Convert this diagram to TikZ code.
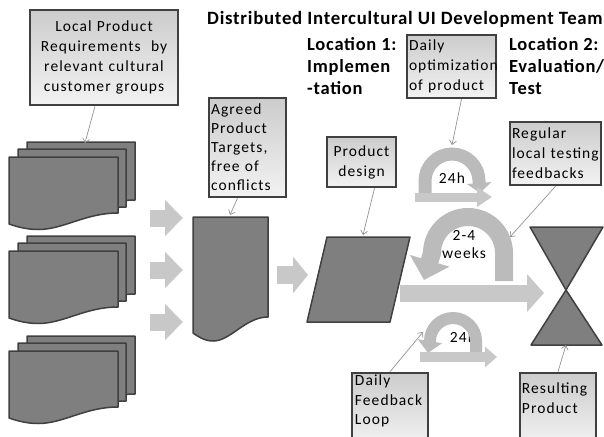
\documentclass[tikz,border=0pt]{standalone}
\usepackage{fontspec}
\setmainfont{Carlito}
\newfontfamily\boxfont[LetterSpace=7]{Carlito}
\newfontfamily\headfont[LetterSpace=4]{Carlito}
\usepackage{tikz}
\usetikzlibrary{arrows.meta}

\definecolor{edgegray}{HTML}{404040}
\definecolor{pagegray}{HTML}{7F7F7F}
\definecolor{arrowgray}{HTML}{C8C8C8}
\definecolor{curvegray}{HTML}{BBBBBB}

% one sheet of a document symbol with a wavy lower edge: x, y, width, height, wave depth
\newcommand{\docpage}[5]{%
  \filldraw[page] (#1,#2) -- ({#1+#3},#2) -- ({#1+#3},{#2+#4})
    .. controls ({#1+0.7*#3},{#2+#4}) and ({#1+0.5*#3},{#2+#4+1.5*#5}) .. ({#1+0.27*#3},{#2+#4+1.5*#5})
    .. controls ({#1+0.15*#3},{#2+#4+1.5*#5}) and ({#1+0.06*#3},{#2+#4+1.2*#5}) .. (#1,{#2+#4+#5}) -- cycle;}

\tikzset{
  page/.style={fill=pagegray,draw=edgegray,line width=1.5pt,line join=round},
  infobox/.style={draw=edgegray,line width=2.5pt,top color=gray!40,bottom color=gray!10,
    inner sep=2pt,align=left,font=\boxfont\fontsize{15.5}{20}\selectfont},
  boxtext/.style={inner sep=0pt,align=left,font=\boxfont\fontsize{15.5}{19.5}\selectfont},
  heading/.style={inner sep=0pt,align=left,font=\headfont\bfseries\fontsize{18.5}{22}\selectfont},
  arclabel/.style={inner sep=0pt,align=center,font=\boxfont\fontsize{15.5}{18}\selectfont},
  link/.style={draw=gray!85,line width=0.7pt,-{Straight Barb[length=4pt,width=7pt]}},
  fat/.style n args={3}{draw=arrowgray,line width=#1,-{Triangle[width=#2,length=#3]}}
}

\begin{document}
\begin{tikzpicture}[x=1pt,y=-1pt]
\useasboundingbox (0,0) rectangle (604,436);
\clip (0,0) rectangle (604,436);

% titles
\node[heading,anchor=west,font=\headfont\bfseries\fontsize{18.8}{22}\selectfont] (team) at (207,19)
  {Distributed Intercultural UI Development Team};
\node[heading,anchor=north west] (loc1) at (307,37) {Location 1:\\Implemen\\-tation};
\node[heading,anchor=north west] (loc2) at (509,37) {Location 2:\\Evaluation/\\Test};

% stacks of local requirement documents
\foreach \y in {142,236,336} {
  \docpage{27}{\y}{108}{58}{11}
  \docpage{18}{\y+7}{108}{58}{11}
  \docpage{9}{\y+15}{109}{56}{11}
}
% agreed targets, design, resulting product
\docpage{193}{217}{75}{100}{16}
\filldraw[page] (327,237) -- (410,237) -- (390,322) -- (307,322) -- cycle;
\filldraw[page] (530,227) -- (603,227) -- (566,290) -- cycle;
\filldraw[page] (566,290) -- (602,345) -- (531,345) -- cycle;

% straight block arrows
\foreach \y in {218,270,322}
  \draw[fat={17pt}{35pt}{18pt}] (150,\y) -- (183,\y);
\draw[fat={18pt}{36pt}{15pt}] (277,275) -- (308,275);
\draw[fat={17pt}{37pt}{17pt}] (400,293) -- (544,293);

% labels of the loops
\node[arclabel] (day1) at (452,178) {24h};
\node[arclabel] (weeks) at (464,245) {2-4\\weeks};
\node[arclabel] (day2) at (463,337) {24h};

% feedback loops
\draw[fat={13pt}{24pt}{10pt},draw=curvegray] (425,197) -- (425,181)
  arc[start angle=180,end angle=360,radius=27] -- (480,193);
\draw[fat={9pt}{19pt}{15pt}] (415,197) -- (492,197);
\draw[fat={18pt}{40pt}{20pt},draw=curvegray] (504,281) -- (504,253)
  arc[start angle=0,end angle=-180,radius=36] -- (424,280);
\draw[fat={12pt}{24pt}{12pt},draw=curvegray] (476,352) -- (476,341)
  arc[start angle=0,end angle=-180,radius=23] -- (428,353);
\draw[fat={10pt}{20pt}{12pt}] (420,357) -- (497,357);

% call-out boxes
\node[infobox,text width=144pt,minimum height=95pt,align=center] (req) at (104,57.5)
  {Local Product\\Requirements~ by\\relevant cultural\\customer groups};
\node[infobox,text width=73pt,minimum height=99pt,font=\boxfont\fontsize{15.5}{19}\selectfont] (agreed) at (247.5,147.5)
  {Agreed\\Product\\Targets,\\free of\\conflicts};
\node[infobox,text width=65pt,minimum height=50pt,align=center] (design) at (361.5,162)
  {Product\\design};
\node[infobox,text width=85pt,minimum height=63pt] (optim) at (451.5,66.5)
  {Daily\\optimization\\of product};
\node[infobox,text width=87pt,minimum height=63pt] (regular) at (555.5,153.5)
  {Regular\\local testing\\feedbacks};
% the two lower boxes run past the bottom edge, their text sits high
\node[infobox,text width=72pt,minimum height=72pt] (loop) at (390,409) {};
\node[boxtext,anchor=north west] (looptext) at ([shift={(4,3)}]loop.north west)
  {Daily\\Feedback\\Loop};
\node[infobox,text width=72pt,minimum height=72pt] (result) at (558,409) {};
\node[boxtext,anchor=north west] (resulttext) at ([shift={(3,11)}]result.north west)
  {Resulting\\Product};

% where the call-outs point
\coordinate (reqin) at (85,143);
\coordinate (agreedin) at (230,215);
\coordinate (designin) at (363,235);
\coordinate (optimin) at (452,145);
\coordinate (regularin) at (510,237);
\coordinate (loopin) at (423,332);
\coordinate (resultin) at (566,345);

\draw[link] ([xshift=-9pt]req.south) -- (reqin);
\draw[link] ([xshift=-10pt]agreed.south) -- (agreedin);
\draw[link] ([xshift=13pt]design.south) -- (designin);
\draw[link] ([xshift=10pt]optim.south) -- (optimin);
\draw[link] (regular.south) -- (regularin);
\draw[link] (loop.north) -- (loopin);
\draw[link] (result.north) -- (resultin);
\end{tikzpicture}
\end{document}
